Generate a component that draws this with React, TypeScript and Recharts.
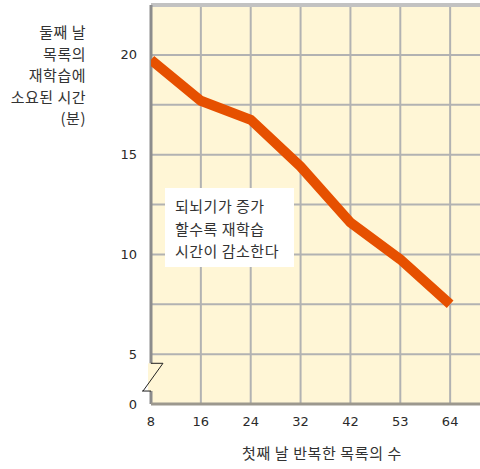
import { LineChart, Line, XAxis, YAxis, CartesianGrid, ReferenceLine } from "recharts";

const LIST_SIZES = ["8", "16", "24", "32", "42", "53", "64"];
const RELEARN_MINUTES = [19.75, 17.7, 16.75, 14.4, 11.6, 9.75, 7.5];
const Y_TICKS = [2.5, 5, 7.5, 10, 12.5, 15, 17.5, 20, 22.5];
const X_TICKS = [0, 1, 2, 3, 4, 5, 6];
const Y_TITLE = ["둘째 날", "목록의", "재학습에", "소요된 시간", "(분)"];
const X_TITLE = "첫째 날 반복한 목록의 수";
const NOTE = ["되뇌기가 증가", "할수록 재학습", "시간이 감소한다"];

// axis break between 0 and 5 (0 is drawn at 2.5)
const BREAK_LOW = 3.15;
const BREAK_HIGH = 4.54;

const data = LIST_SIZES.map((label, i) => ({ idx: i, label, minutes: RELEARN_MINUTES[i] }));

const KO = '"Noto Sans CJK KR", "Noto Sans", sans-serif';
const AXIS_GRAY = "#8c8c8c";

export default function App() {
  return (
    <div style={{ position: "absolute", left: 0, top: 0, width: 480, height: 469, overflow: "hidden", background: "#fff" }}>
      <LineChart width={520} height={469} data={data} margin={{ top: 5, right: 20, bottom: 0, left: 0 }}>
        <CartesianGrid stroke="#b2b2b2" strokeWidth={2} fill="#fff6d6" fillOpacity={1} />
        <XAxis
          dataKey="idx"
          type="number"
          domain={[0, 7]}
          ticks={X_TICKS}
          tickFormatter={(v: number) => LIST_SIZES[v] ?? ""}
          height={65}
          tickLine={false}
          tickSize={0}
          tickMargin={13}
          axisLine={{ stroke: "#9c988e", strokeWidth: 3 }}
          tick={{ fontSize: 13, fill: "#2a2a2a", fontFamily: "DejaVu Sans" }}
          allowDataOverflow
        />
        <YAxis
          type="number"
          domain={[2.5, 22.5]}
          ticks={Y_TICKS}
          width={151}
          tickLine={false}
          tickSize={0}
          tickMargin={14}
          axisLine={false}
          tickFormatter={(v: number) => (v === 2.5 ? "0" : v % 5 === 0 && v <= 20 ? String(v) : "")}
          tick={{ fontSize: 13, fill: "#2a2a2a", fontFamily: "DejaVu Sans" }}
          allowDataOverflow
        />
        <ReferenceLine y={22.5} stroke="#c2c2c2" strokeWidth={4} ifOverflow="visible" />
        <ReferenceLine
          segment={[{ x: 0, y: BREAK_LOW }, { x: 0, y: BREAK_HIGH }]}
          stroke="#fff6d6"
          strokeWidth={6}
          ifOverflow="visible"
        />
        <ReferenceLine
          segment={[{ x: 0, y: 2.5 }, { x: 0, y: BREAK_LOW }]}
          stroke={AXIS_GRAY}
          strokeWidth={3}
          ifOverflow="visible"
        />
        <ReferenceLine
          segment={[{ x: 0, y: BREAK_HIGH }, { x: 0, y: 22.5 }]}
          stroke={AXIS_GRAY}
          strokeWidth={3}
          ifOverflow="visible"
        />
        <ReferenceLine
          segment={[{ x: 0, y: BREAK_HIGH }, { x: 0.24, y: BREAK_HIGH }]}
          stroke="#222"
          strokeWidth={1}
          ifOverflow="visible"
        />
        <ReferenceLine
          segment={[{ x: 0.24, y: BREAK_HIGH }, { x: -0.16, y: BREAK_LOW }]}
          stroke="#222"
          strokeWidth={1}
          ifOverflow="visible"
        />
        <ReferenceLine
          segment={[{ x: -0.18, y: BREAK_LOW }, { x: 0, y: BREAK_LOW }]}
          stroke="#222"
          strokeWidth={1}
          ifOverflow="visible"
        />
        <Line
          dataKey="minutes"
          type="linear"
          stroke="#e65000"
          strokeWidth={10}
          dot={false}
          activeDot={false}
          isAnimationActive={false}
        />
      </LineChart>

      <div
        style={{
          position: "absolute",
          left: 0,
          top: 21,
          width: 86,
          textAlign: "right",
          fontFamily: KO,
          fontSize: 15,
          letterSpacing: 0.5,
          lineHeight: "21.5px",
          color: "#333",
          whiteSpace: "nowrap",
        }}
      >
        {Y_TITLE.map((t) => (
          <div key={t}>{t}</div>
        ))}
      </div>

      <div
        style={{
          position: "absolute",
          left: 202,
          top: 442,
          width: 240,
          textAlign: "center",
          fontFamily: KO,
          fontSize: 15,
          letterSpacing: 0.6,
          lineHeight: "22px",
          color: "#333",
        }}
      >
        {X_TITLE}
      </div>

      <div
        style={{
          position: "absolute",
          left: 165,
          top: 188,
          width: 129,
          height: 79,
          paddingLeft: 10,
          paddingTop: 7,
          boxSizing: "border-box",
          background: "#fff",
          fontFamily: KO,
          fontSize: 15,
          letterSpacing: 0.5,
          lineHeight: "22.5px",
          color: "#333",
          whiteSpace: "nowrap",
        }}
      >
        {NOTE.map((t) => (
          <div key={t}>{t}</div>
        ))}
      </div>
    </div>
  );
}
